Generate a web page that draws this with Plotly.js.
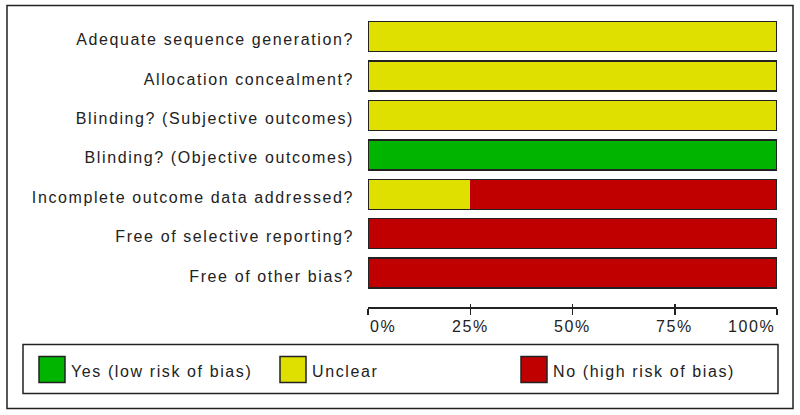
<!DOCTYPE html>
<html>
<head>
<meta charset="utf-8">
<script src="https://cdn.plot.ly/plotly-3.0.1.min.js"></script>
<style>
  html, body { margin: 0; padding: 0; background: #fff; }
  #chart { width: 800px; height: 415px; }
  text { letter-spacing: 1.6px; }
</style>
</head>
<body>
<div id="chart"></div>
<script>
// ---- data ----
const categories = [
  "Adequate sequence generation?",
  "Allocation concealment?",
  "Blinding? (Subjective outcomes)",
  "Blinding? (Objective outcomes)",
  "Incomplete outcome data addressed?",
  "Free of selective reporting?",
  "Free of other bias?"
];
const seriesNames = ["Yes (low risk of bias)", "Unclear", "No (high risk of bias)"];
const yesValues     = [0, 0, 0, 100, 0, 0, 0];
const unclearValues = [100, 100, 100, 0, 25, 0, 0];
const noValues      = [0, 0, 0, 0, 75, 100, 100];
const tickValues = [0, 25, 50, 75, 100];
const tickLabels = ["0%", "25%", "50%", "75%", "100%"];

// ---- styles ----
const seriesColors = ["#00b400", "#dfdf00", "#c00000"];
const ink = "#222222";
const fontFamily = "Liberation Sans, Arial, sans-serif";
const fontSize = 16;

// ---- layout geometry (pixels) ----
const W = 800, H = 415;
const L = 368, R = 23, T = 17.4, PB = 306.7;
const B = H - PB;
const PW = W - L - R, PH = PB - T;
const px = v => (v - L) / PW;
const py = v => (PB - v) / PH;
const rowPx = 39.3;

const seriesValues = [yesValues, unclearValues, noValues];
const totals = categories.map((_, i) => seriesValues.reduce((s, arr) => s + arr[i], 0));

const traces = seriesValues.map((vals, k) => ({
  type: "bar",
  orientation: "h",
  name: seriesNames[k],
  x: vals,
  y: categories,
  marker: { color: seriesColors[k], line: { width: 0 } },
  hoverinfo: "skip",
  showlegend: false
}));
// row outline (whole row, no inner dividers)
traces.push({
  type: "bar",
  orientation: "h",
  x: totals,
  y: categories,
  xaxis: "x2",
  yaxis: "y",
  marker: { color: "rgba(0,0,0,0)", line: { width: 1.5, color: ink } },
  hoverinfo: "skip",
  showlegend: false
});

const shapes = [];
const annotations = [];

// outer frame
shapes.push({ type: "rect", xref: "paper", yref: "paper",
  x0: px(7), x1: px(793), y0: py(6), y1: py(408),
  line: { color: ink, width: 1.5 }, fillcolor: "rgba(0,0,0,0)" });
// legend frame
shapes.push({ type: "rect", xref: "paper", yref: "paper",
  x0: px(23), x1: px(778), y0: py(344), y1: py(393),
  line: { color: ink, width: 1.5 }, fillcolor: "rgba(0,0,0,0)" });

// legend items
const legendX = [39, 280, 521];
seriesNames.forEach((name, k) => {
  shapes.push({ type: "rect", xref: "paper", yref: "paper",
    x0: px(legendX[k]), x1: px(legendX[k] + 26), y0: py(356), y1: py(382),
    line: { color: ink, width: 1.5 }, fillcolor: seriesColors[k] });
  annotations.push({ xref: "paper", yref: "paper",
    x: px(legendX[k] + 30), y: py(371), xanchor: "left", yanchor: "middle",
    text: name, showarrow: false,
    font: { family: fontFamily, size: fontSize, color: ink } });
});

// x tick labels (first left-aligned, last right-aligned, as in the reference)
tickValues.forEach((v, i) => {
  annotations.push({ xref: "x", yref: "paper",
    x: v, y: py(326),
    xanchor: i === 0 ? "left" : (i === tickValues.length - 1 ? "right" : "center"),
    yanchor: "middle", text: tickLabels[i], showarrow: false,
    font: { family: fontFamily, size: fontSize, color: ink } });
});

const layout = {
  width: W, height: H,
  margin: { l: L, r: R, t: T, b: B, pad: 0 },
  paper_bgcolor: "#ffffff",
  plot_bgcolor: "#ffffff",
  barmode: "stack",
  bargap: 0.24,
  showlegend: false,
  font: { family: fontFamily, size: fontSize, color: ink },
  xaxis: {
    range: [0, 100], fixedrange: true,
    showgrid: false, zeroline: false,
    showline: true, linecolor: ink, linewidth: 1.5,
    ticks: "outside", ticklen: 6, tickwidth: 1.5, tickcolor: ink,
    tickvals: tickValues, showticklabels: false
  },
  xaxis2: {
    overlaying: "x", matches: "x", anchor: "y", side: "bottom",
    range: [0, 100], fixedrange: true,
    showgrid: false, zeroline: false, showline: false,
    ticks: "inside", ticklen: 3, tickwidth: 1.5, tickcolor: ink,
    tickvals: tickValues, showticklabels: false
  },
  yaxis: {
    type: "category",
    categoryorder: "array", categoryarray: categories,
    range: [-0.5 + PH / rowPx, -0.5],
    autorange: false, fixedrange: true,
    showgrid: false, zeroline: false, showline: false,
    ticks: "", ticklabelstandoff: 13, ticklabelshift: -3,
    tickfont: { family: fontFamily, size: fontSize, color: ink }
  },
  shapes: shapes,
  annotations: annotations
};

Plotly.newPlot("chart", traces, layout, { displayModeBar: false, staticPlot: true });
</script>
</body>
</html>
